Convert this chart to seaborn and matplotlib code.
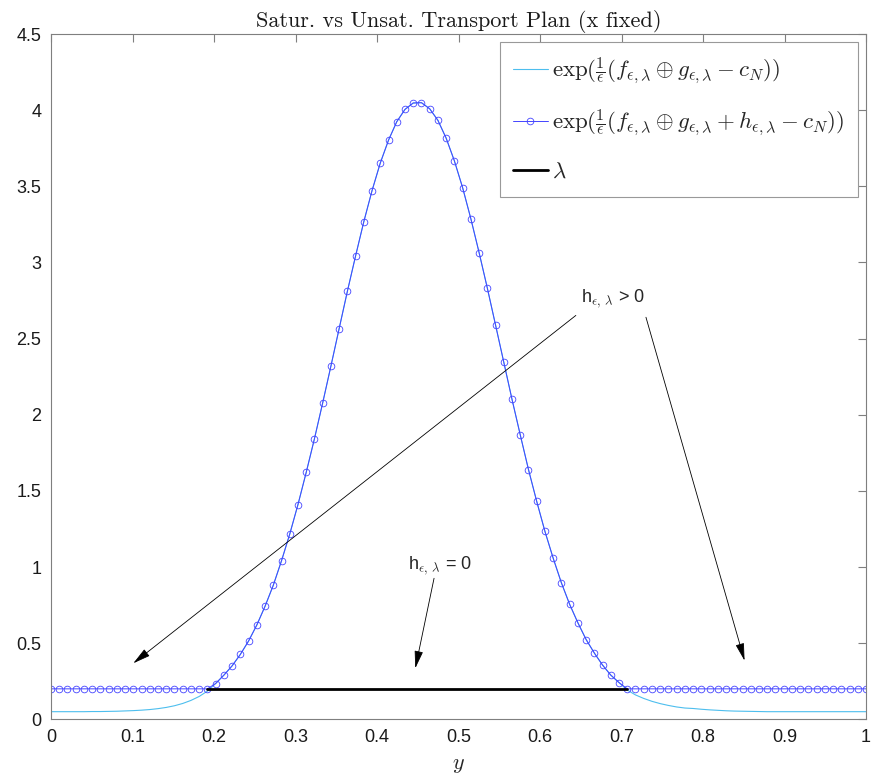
import numpy as np
import matplotlib
matplotlib.use('Agg')
import matplotlib.pyplot as plt
import seaborn as sns

# grid of y positions (100 samples on [0, 1])
y_grid = np.linspace(0, 1, 100)

# unsaturated plan exp((f+g-c)/eps)
unsat = [
    0.050, 0.050, 0.050, 0.050, 0.050, 0.051, 0.051, 0.052, 0.053, 0.055,
    0.057, 0.060, 0.064, 0.070, 0.078, 0.089, 0.104, 0.124, 0.150, 0.185,
    0.235, 0.290, 0.351, 0.426, 0.514, 0.619, 0.742, 0.880, 1.041, 1.216,
    1.410, 1.621, 1.842, 2.077, 2.319, 2.565, 2.810, 3.043, 3.268, 3.472,
    3.653, 3.803, 3.924, 4.005, 4.047, 4.049, 4.009, 3.933, 3.816, 3.667,
    3.491, 3.287, 3.065, 2.832, 2.589, 2.345, 2.101, 1.868, 1.640, 1.431,
    1.234, 1.058, 0.896, 0.755, 0.634, 0.524, 0.435, 0.356, 0.290, 0.241,
    0.192, 0.160, 0.137, 0.118, 0.103, 0.091, 0.081, 0.074, 0.071, 0.066,
    0.062, 0.059, 0.056, 0.054, 0.053, 0.052, 0.051, 0.050, 0.050, 0.050,
    0.050, 0.050, 0.050, 0.050, 0.050, 0.050, 0.050, 0.050, 0.050, 0.050,
]

lam = 0.2
# saturated plan: flat at lambda on both tails
sat = [lam] * 20 + unsat[20:70] + [lam] * 30
# lambda level drawn where h = 0
lam_x = y_grid[19:71]
lam_y = [lam] * len(lam_x)

labels = [
    r'$\exp(\frac{1}{\epsilon}(f_{\epsilon,\lambda} \oplus g_{\epsilon,\lambda} - c_N))$',
    r'$\exp(\frac{1}{\epsilon}(f_{\epsilon,\lambda} \oplus g_{\epsilon,\lambda} + h_{\epsilon,\lambda} - c_N))$',
    r'$\lambda$',
]

sns.set_theme(style='white')
plt.rcParams['font.family'] = ['Liberation Sans', 'DejaVu Sans']
plt.rcParams['mathtext.fontset'] = 'cm'

fig = plt.figure(figsize=(8.71, 7.80), dpi=100)
ax = fig.add_axes([51 / 871, 1 - 719.3 / 780, 815 / 871, (719.3 - 34) / 780])

sns.lineplot(x=y_grid, y=unsat, ax=ax, color='#4DBEEE', linewidth=0.8, label=labels[0])
sns.lineplot(x=y_grid, y=sat, ax=ax, color='#4444ff', linewidth=0.7, marker='o',
             markersize=4.8, markerfacecolor='none', markeredgecolor='#4444ff',
             markeredgewidth=0.6, label=labels[1])
sns.lineplot(x=lam_x, y=lam_y, ax=ax, color='black', linewidth=2, label=labels[2])

ax.set_xlim(0, 1)
ax.set_ylim(0, 4.5)
ax.set_xticks(np.arange(0, 1.01, 0.1))
ax.set_xticklabels(['0', '0.1', '0.2', '0.3', '0.4', '0.5', '0.6', '0.7', '0.8', '0.9', '1'])
ax.set_yticks(np.arange(0, 4.51, 0.5))
ax.set_yticklabels(['0', '0.5', '1', '1.5', '2', '2.5', '3', '3.5', '4', '4.5'])

gray = '#7f7f7f'
for s in ax.spines.values():
    s.set_visible(True)
    s.set_color(gray)
    s.set_linewidth(0.8)
ax.tick_params(direction='in', length=6, width=0.8, color=gray, labelcolor='#1a1a1a',
               labelsize=13, top=True, right=True, pad=7)

ax.set_title('Satur. vs Unsat. Transport Plan (x fixed)', fontfamily='cmr10',
             fontsize=16, pad=5, color='#1a1a1a')
ax.set_xlabel(r'$y$', fontsize=16, labelpad=6)
ax.set_ylabel('')

leg = ax.legend(loc='upper right', fontsize=16.5, frameon=True, fancybox=False,
                framealpha=1, edgecolor='#999999', borderaxespad=0.35,
                handlelength=1.5, labelspacing=0.95, borderpad=0.6, handletextpad=0.2)
leg.get_frame().set_linewidth(0.8)

arrow = dict(arrowstyle='-|>,head_length=0.9,head_width=0.22', color='black',
             lw=0.6, shrinkA=0, shrinkB=0)
ax.text(0.650, 2.735, r'h$_{\epsilon,\,\lambda}$ > 0', fontsize=13, va='baseline', ha='left')
ax.annotate('', xy=(0.101, 0.368), xytext=(0.644, 2.652), arrowprops=arrow)
ax.annotate('', xy=(0.851, 0.385), xytext=(0.730, 2.640), arrowprops=arrow)
ax.text(0.438, 0.987, r'h$_{\epsilon,\,\lambda}$ = 0', fontsize=13, va='baseline', ha='left')
ax.annotate('', xy=(0.447, 0.335), xytext=(0.470, 0.926), arrowprops=arrow)

fig.savefig('out.png', dpi=100)
